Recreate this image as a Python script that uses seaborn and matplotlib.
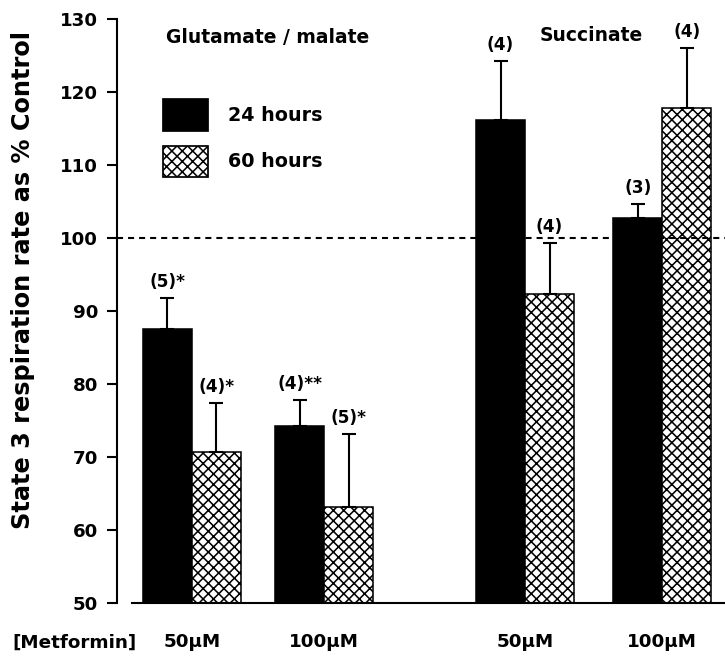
import numpy as np
import pandas as pd
import matplotlib
matplotlib.use("Agg")
import matplotlib.pyplot as plt
from matplotlib.patches import Patch
import seaborn as sns

# values
doses = ["50µM", "100µM", "50µM", "100µM"]
substrates = ["Glutamate / malate", "Succinate"]
series = ["24 hours", "60 hours"]
mean_24h = [87.6, 74.3, 116.1, 102.8]
sem_24h = [4.2, 3.5, 8.1, 1.8]
mean_60h = [70.7, 63.2, 92.3, 117.8]
sem_60h = [6.7, 9.9, 7.0, 8.2]
n_24h = ["(5)*", "(4)**", "(4)", "(3)"]
n_60h = ["(4)*", "(5)*", "(4)", "(4)"]

# layout: centre of each dose group on the x axis (bar width = 1)
group_pos = np.array([0, 2.7, 6.8, 9.6])

sns.set_theme(style="ticks")
plt.rcParams['font.family'] = ['DejaVu Sans']
plt.rcParams['font.weight'] = 'bold'
plt.rcParams['hatch.linewidth'] = 0.9
for k in ["text.color", "axes.labelcolor", "xtick.color", "ytick.color",
          "axes.edgecolor"]:
    plt.rcParams[k] = "black"

df = pd.DataFrame({
    "pos": np.concatenate([group_pos - 0.5, group_pos + 0.5]),
    "value": mean_24h + mean_60h,
    "hours": [series[0]] * 4 + [series[1]] * 4,
})

fig = plt.figure(figsize=(5.8, 5.256), dpi=125)
ax = fig.add_axes([117 / 725, 54 / 657, 608 / 725, 584 / 657])

sns.barplot(data=df, x="pos", y="value", hue="hours", native_scale=True,
            dodge=False, width=1.0, errorbar=None, legend=False,
            palette={series[0]: "black", series[1]: "white"},
            edgecolor="black", linewidth=0.9, ax=ax, zorder=2)

for p in ax.patches:
    if p.get_facecolor()[0] > 0.5:
        p.set_hatch("xxxx")

# one-sided error bars
for pos, m, e, lab in [(group_pos - 0.5, mean_24h, sem_24h, n_24h),
                       (group_pos + 0.5, mean_60h, sem_60h, n_60h)]:
    ax.errorbar(pos, m, yerr=[np.zeros(len(e)), e], fmt="none", ecolor="black",
                elinewidth=1.2, capsize=4.3, capthick=1.2, zorder=3)
    for x, top, t in zip(pos, np.array(m) + np.array(e), lab):
        ax.annotate(t, (x, top), xytext=(0, 4), textcoords="offset points",
                    ha="center", va="bottom", fontsize=9.7, fontweight="bold")

ax.axhline(100, color="black", lw=1.2, ls=(0, (2.9, 2.4)), zorder=2.5)

ax.set_ylim(50, 130)
ax.set_xlim(-1.53, 10.88)
ax.set_yticks(np.arange(50, 131, 10))
ax.set_xticks(group_pos)
ax.set_xticklabels(doses)
ax.tick_params(axis="x", length=0, pad=17, labelsize=10.6)
ax.tick_params(axis="y", length=5.8, width=1.2, pad=5, labelsize=10.5)
for lab in ax.get_xticklabels() + ax.get_yticklabels():
    lab.set_fontweight("bold")

ax.spines["top"].set_visible(False)
ax.spines["right"].set_visible(False)
ax.spines["left"].set_linewidth(1.2)
ax.spines["bottom"].set_linewidth(1.2)
ax.spines["bottom"].set_bounds(-1.22, 10.88)

ax.set_xlabel("")
ax.set_ylabel("State 3 respiration rate as % Control", fontsize=13.8,
              fontweight="bold")
ax.yaxis.set_label_coords(-0.135, 0.553)

ax.text(1.55, 127.4, substrates[0], ha="center", va="center", fontsize=10.8,
        fontweight="bold")
ax.text(8.16, 127.8, substrates[1], ha="center", va="center", fontsize=10.8,
        fontweight="bold")
fig.text(74 / 725, 1 - 643 / 657, "[Metformin]", ha="center", va="center",
         fontsize=10.6, fontweight="bold")

handles = [Patch(facecolor="black", edgecolor="black", label=series[0]),
           Patch(facecolor="white", edgecolor="black", hatch="xxxx", label=series[1])]
ax.legend(handles=handles, loc="upper left", frameon=False,
          bbox_to_anchor=(163 / 725, 1 - 99 / 657), bbox_transform=fig.transFigure,
          borderpad=0, borderaxespad=0, handlelength=2.35, handleheight=2.2,
          labelspacing=0.76, handletextpad=1.05,
          prop={"size": 11, "weight": "bold"})

fig.savefig("out.png", dpi=125)
